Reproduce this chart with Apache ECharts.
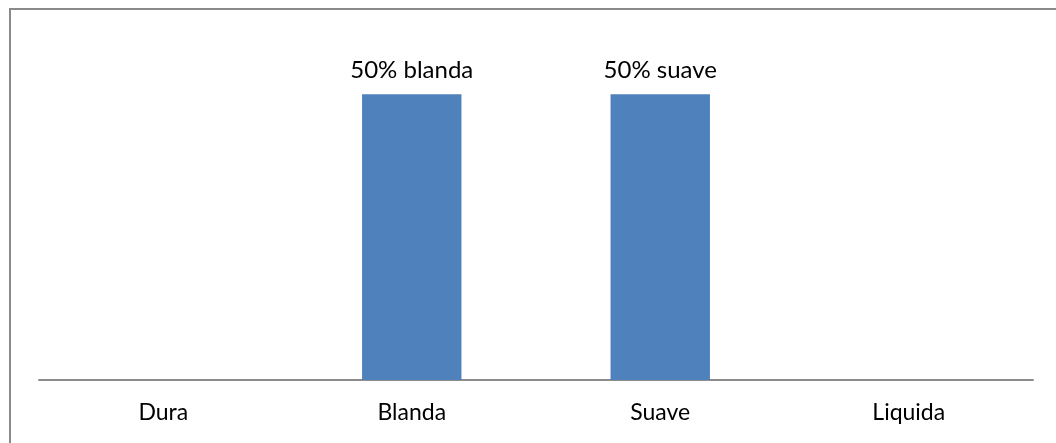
<!DOCTYPE html>
<html>
<head>
<meta charset="utf-8">
<script src="https://cdn.jsdelivr.net/npm/echarts@6/dist/echarts.min.js"></script>
<style>
  html, body { margin: 0; padding: 0; background: #fff; }
  #frame {
    position: absolute; left: 9px; top: 8px; width: 1060px; height: 450px;
    border: 2px solid #8a8a8a; box-sizing: border-box;
  }
  #chart { position: absolute; left: 0; top: 0; width: 1056px; height: 443px; }
</style>
</head>
<body>
<div id="frame"></div>
<div id="chart"></div>
<script>
// Texture categories and the share recorded for each
const categories = ['Dura', 'Blanda', 'Suave', 'Liquida'];
const values = [0, 50, 50, 0];
const valueLabels = ['', '50% blanda', '50% suave', ''];

const chart = echarts.init(document.getElementById('chart'));
chart.setOption({
  animation: false,
  grid: { left: 39, right: 23, top: 37, bottom: 63 },
  xAxis: {
    type: 'category',
    data: categories,
    axisLine: { lineStyle: { color: '#8c8c8c', width: 2 } },
    axisTick: { show: false },
    axisLabel: { color: '#000', fontFamily: 'Lato', fontSize: 23, margin: 21 }
  },
  yAxis: {
    type: 'value', min: 0, max: 60, show: false,
    splitLine: { show: false }
  },
  series: [{
    type: 'bar',
    data: values,
    barWidth: '40%',
    itemStyle: { color: '#4f81bd' },
    label: {
      show: true, position: 'top', distance: 12,
      color: '#000', fontFamily: 'Lato', fontSize: 24,
      formatter: p => valueLabels[p.dataIndex]
    }
  }]
});
</script>
</body>
</html>
